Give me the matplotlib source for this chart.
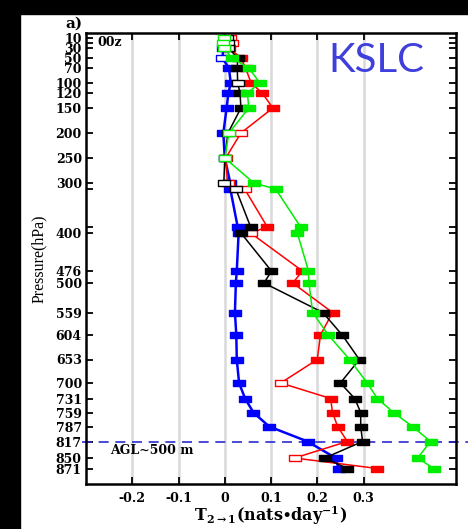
import matplotlib
matplotlib.use("Agg")
import matplotlib.pyplot as plt
from matplotlib.path import Path
from matplotlib.patches import Rectangle

# Pressure levels (hPa) and information flow T(2->1) for each series
levels = [10, 20, 30, 50, 70, 100, 120, 150, 200, 250, 300, 312, 388, 400,
          476, 500, 559, 604, 653, 700, 731, 759, 787, 817, 850, 871]

blue_vals = [0.0, -0.002, -0.003, -0.005, 0.009, 0.013, 0.008, 0.004, -0.003, 0.0,
             0.012, 0.012, 0.028, 0.030, 0.026, 0.024, 0.022, 0.025, 0.026, 0.031,
             0.044, 0.062, 0.096, 0.179, 0.240, 0.246]
red_vals = [0.012, 0.015, 0.010, 0.035, 0.045, 0.057, 0.081, 0.104, 0.035, 0.002,
            0.006, 0.043, 0.092, 0.056, 0.168, 0.147, 0.233, 0.207, 0.200, 0.121,
            0.229, 0.233, 0.244, 0.265, 0.151, 0.330]
black_vals = [0.005, 0.006, 0.008, 0.028, 0.027, 0.028, 0.033, 0.035, 0.007, 0.0,
              -0.002, 0.024, 0.056, 0.035, 0.101, 0.085, 0.212, 0.254, 0.291, 0.250,
              0.281, 0.294, 0.294, 0.298, 0.216, 0.265]
green_vals = [-0.002, -0.003, -0.002, 0.015, 0.052, 0.076, 0.049, 0.052, 0.009, 0.0,
              0.063, 0.110, 0.164, 0.157, 0.181, 0.182, 0.190, 0.224, 0.270, 0.308,
              0.330, 0.365, 0.406, 0.445, 0.417, 0.452]

# Significant (filled) vs. non-significant (hollow) points
blue_sig = [0, 0, 0, 0] + [1] * 22
red_sig = [0, 0, 0, 1, 1, 1, 1, 1, 0, 0, 0, 0, 1, 0, 1, 1, 1, 1, 1, 0, 1, 1, 1, 1, 0, 1]
black_sig = [0, 0, 0, 1, 1, 0, 1, 1, 0, 0, 0, 0, 1, 1, 1, 1, 1, 1, 1, 1, 1, 1, 1, 1, 1, 1]
green_sig = [0, 0, 0, 1, 1, 1, 1, 1, 0, 0] + [1] * 16

ytick_labels = ["10", "", "30", "50", "70", "100", "120", "150", "200", "250",
                "300", "", "", "400", "476", "500", "559", "604", "653", "700",
                "731", "759", "787", "817", "850", "871"]
xticks = [-0.2, -0.1, 0, 0.1, 0.2, 0.3]
xtick_labels = ["-0.2", "-0.1", "0", "0.1", "0.2", "0.3"]
pbl_level = 817

plt.rcParams["mathtext.fontset"] = "custom"
plt.rcParams["mathtext.rm"] = "DejaVu Serif:bold"
plt.rcParams["mathtext.it"] = "DejaVu Serif:bold"
plt.rcParams["mathtext.bf"] = "DejaVu Serif:bold"

W, H = 468, 529
fig = plt.figure(figsize=(W / 100, H / 100), dpi=100)
ax = fig.add_axes([86 / W, 1 - 484 / H, (456 - 86) / W, (484 - 33) / H])

# black frame strips around the panel
fig.patches.append(Rectangle((0, 0), 20 / W, 1, transform=fig.transFigure,
                             color="black", zorder=0))
fig.patches.append(Rectangle((0, 1 - 14 / H), 1, 14 / H, transform=fig.transFigure,
                             color="black", zorder=0))

box = Path([(-0.8, -0.5), (0.8, -0.5), (0.8, 0.5), (-0.8, 0.5), (-0.8, -0.5)],
           [Path.MOVETO, Path.LINETO, Path.LINETO, Path.LINETO, Path.CLOSEPOLY])

series = [
    (blue_vals, blue_sig, "#0000ff", 1.8, 3),
    (red_vals, red_sig, "#ff0000", 1.1, 4),
    (black_vals, black_sig, "#000000", 1.1, 5),
    (green_vals, green_sig, "#00ee00", 1.1, 6),
]
for vals, sig, col, lw, z in series:
    ax.plot(vals, levels, color=col, lw=lw, zorder=z)
    fx = [v for v, s in zip(vals, sig) if s]
    fy = [p for p, s in zip(levels, sig) if s]
    hx = [v for v, s in zip(vals, sig) if not s]
    hy = [p for p, s in zip(levels, sig) if not s]
    ax.plot(fx, fy, ls="none", marker=box, ms=8.0, mfc=col, mec=col, mew=1,
            zorder=z + 0.1)
    ax.plot(hx, hy, ls="none", marker=box, ms=8.0, mfc="white", mec=col, mew=1,
            zorder=z + 0.2)

for xv in xticks:
    ax.axvline(xv, color="#d9d9d9", lw=1.8, zorder=1)

ax.axhline(pbl_level, xmin=-0.01, xmax=(W - 86) / (456 - 86), color="#2b2bd0",
           lw=1.2, ls=(0, (6, 4)), clip_on=False, zorder=2)

ax.set_xlim(-0.3, 0.5)
ax.set_ylim(902, 0)

tick_font = dict(family="DejaVu Serif", weight="bold", size=9.0)
ax.set_xticks(xticks)
ax.set_xticklabels(xtick_labels, fontdict=tick_font)
ax.set_yticks(levels)
ax.set_yticklabels(ytick_labels, fontdict=tick_font)
ax.tick_params(direction="in", length=5, width=1.3, top=True, right=True)
ax.tick_params(axis="y", pad=3)
ax.tick_params(axis="x", pad=6)
for sp in ax.spines.values():
    sp.set_linewidth(1.8)

ax.set_xlabel(r"T$_{2\rightarrow1}$(nats$\bullet$day$^{-1}$)", family="DejaVu Serif",
              weight="bold", size=11.5, labelpad=-1)
ax.set_ylabel("Pressure(hPa)", family="Liberation Serif", size=11.5, labelpad=6)

fig.text(74 / W, 1 - 24 / H, "a)", family="DejaVu Serif", weight="bold",
         size=11, ha="center", va="center")
ax.text(97 / W, 1 - 43 / H, "00z", transform=fig.transFigure, family="DejaVu Serif",
        weight="bold", size=9.0, ha="left", va="center", zorder=8)
ax.text(376 / W, 1 - 60 / H, "KSLC", transform=fig.transFigure, family="Lato",
        size=29, color="#3f3fdc", ha="center", va="center", zorder=8)
ax.text(110 / W, 1 - 451 / H, "AGL~500 m", transform=fig.transFigure,
        family="DejaVu Serif", weight="bold", size=9.0, ha="left", va="center",
        zorder=8)

fig.savefig("out.png", dpi=100)
